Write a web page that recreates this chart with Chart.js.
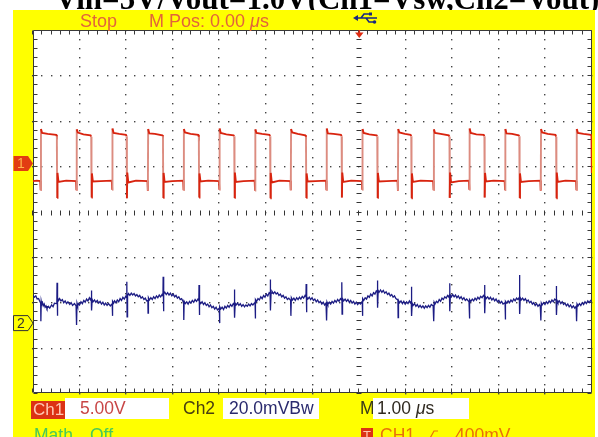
<!DOCTYPE html>
<html>
<head>
<meta charset="utf-8">
<script src="https://cdn.jsdelivr.net/npm/chart.js@4.4.1/dist/chart.umd.min.js"></script>
<style>
  body { margin: 0; background: #fff; }
  #wrap { position: relative; width: 598px; height: 437px; overflow: hidden; }
  #scope, #labels { position: absolute; left: 0; top: 0; }
  #labels text { font-family: "Liberation Sans", Arial, sans-serif; }
</style>
</head>
<body>
<div id="wrap">
<canvas id="scope" width="598" height="437"></canvas>
<svg id="labels" width="598" height="437">
  <defs><clipPath id="topclip"><rect x="0" y="0" width="598" height="10"/></clipPath></defs>
  <text x="55" y="9" clip-path="url(#topclip)" style="font-family:'Liberation Serif','Times New Roman',serif;font-weight:bold;font-size:31px" fill="#000">Vin=5V/Vout=1.0V(Ch1=Vsw,Ch2=Vout)</text>

  <text x="80" y="27" font-size="18" fill="#e2643a">Stop</text>
  <text x="149" y="27" font-size="18" fill="#e2643a">M Pos: 0.00 <tspan font-style="italic">μ</tspan>s</text>

  <rect x="31" y="401" width="34" height="18" fill="#dc3214"/>
  <text x="33" y="415" font-size="17" fill="#ffc8b4">Ch1</text>
  <rect x="65" y="398" width="104" height="21" fill="#fff"/>
  <text x="80" y="414" font-size="17.5" fill="#c84646">5.00V</text>

  <text x="183" y="414" font-size="17.5" fill="#4a4010">Ch2</text>
  <rect x="223" y="398" width="96" height="21" fill="#fff"/>
  <text x="229" y="414" font-size="17.5" fill="#2a2a6e">20.0mVBw</text>

  <text x="360" y="414" font-size="17.5" fill="#3a3a1a">M</text>
  <rect x="373" y="398" width="96" height="21" fill="#fff"/>
  <text x="377" y="414" font-size="17.5" fill="#302a20">1.00 <tspan font-style="italic">μ</tspan>s</text>

  <text x="34" y="441" font-size="17.5" fill="#48c85a">Math</text>
  <text x="90" y="441" font-size="17.5" fill="#48c85a">Off</text>

  <rect x="361" y="428" width="12" height="12" fill="#dc3214"/>
  <text x="363" y="440" font-size="13" fill="#ffc8b4">T</text>
  <text x="380" y="441" font-size="17.5" fill="#e8700a">CH1</text>
  <polyline points="424,440 429,440 434,431 438,431" fill="none" stroke="#e8700a" stroke-width="1.2"/>
  <text x="455" y="441" font-size="17.5" fill="#e8700a">400mV</text>
</svg>
</div>
<script>
// horizontal: microseconds (1 us / div), vertical: screen divisions
const timeDivs = [0, 1, 2, 3, 4, 5, 6, 7, 8, 9, 10, 11, 12];
const voltDivs = [-4, -3, -2, -1, 0, 1, 2, 3, 4];
const minorPerDiv = 5;
const triggerTime = 7;
const ch1Ground = 1.06;
const ch2Ground = -2.46;

// CH1 = Vsw  [time us, divisions]
const ch1Trace = [
  [0, 0.67], [0.08, 0.68], [0.157, 0.67],
  [0.165, 0.47], [0.171, 1.82], [0.195, 1.73], [0.315, 1.71], [0.497, 1.69], [0.512, 1.66], [0.518, 0.30], [0.526, 0.85], [0.547, 0.65], [0.712, 0.68], [0.925, 0.67],
  [0.933, 0.47], [0.939, 1.81], [0.963, 1.74], [1.083, 1.70], [1.235, 1.68], [1.250, 1.65], [1.256, 0.31], [1.264, 0.84], [1.285, 0.66], [1.45, 0.67], [1.692, 0.68],
  [1.700, 0.48], [1.706, 1.83], [1.730, 1.73], [1.850, 1.71], [1.995, 1.69], [2.010, 1.66], [2.016, 0.29], [2.024, 0.86], [2.045, 0.64], [2.21, 0.68], [2.458, 0.67],
  [2.466, 0.46], [2.472, 1.82], [2.496, 1.72], [2.616, 1.71], [2.775, 1.68], [2.790, 1.66], [2.796, 0.30], [2.804, 0.85], [2.825, 0.65], [2.99, 0.67], [3.225, 0.68],
  [3.233, 0.47], [3.239, 1.82], [3.263, 1.74], [3.383, 1.71], [3.545, 1.69], [3.560, 1.65], [3.566, 0.31], [3.574, 0.84], [3.595, 0.66], [3.76, 0.68], [3.992, 0.67],
  [4.000, 0.48], [4.006, 1.83], [4.030, 1.73], [4.150, 1.70], [4.305, 1.68], [4.320, 1.66], [4.326, 0.30], [4.334, 0.86], [4.355, 0.65], [4.52, 0.67], [4.759, 0.68],
  [4.767, 0.46], [4.773, 1.81], [4.797, 1.73], [4.917, 1.71], [5.075, 1.69], [5.090, 1.66], [5.096, 0.29], [5.104, 0.85], [5.125, 0.64], [5.29, 0.68], [5.526, 0.67],
  [5.534, 0.47], [5.540, 1.82], [5.564, 1.74], [5.684, 1.71], [5.845, 1.68], [5.860, 1.65], [5.866, 0.30], [5.874, 0.84], [5.895, 0.66], [6.06, 0.67], [6.292, 0.68],
  [6.300, 0.47], [6.306, 1.83], [6.330, 1.72], [6.450, 1.71], [6.610, 1.69], [6.625, 1.66], [6.631, 0.31], [6.639, 0.86], [6.660, 0.65], [6.83, 0.68], [7.060, 0.67],
  [7.068, 0.48], [7.074, 1.82], [7.098, 1.73], [7.218, 1.70], [7.375, 1.68], [7.390, 1.66], [7.396, 0.30], [7.404, 0.85], [7.425, 0.66], [7.59, 0.67], [7.826, 0.68],
  [7.834, 0.46], [7.840, 1.82], [7.864, 1.74], [7.984, 1.71], [8.105, 1.69], [8.120, 1.66], [8.126, 0.29], [8.134, 0.84], [8.155, 0.65], [8.32, 0.68], [8.592, 0.67],
  [8.600, 0.47], [8.606, 1.81], [8.630, 1.73], [8.750, 1.71], [8.925, 1.68], [8.940, 1.65], [8.946, 0.30], [8.954, 0.86], [8.975, 0.64], [9.14, 0.67], [9.359, 0.68],
  [9.367, 0.48], [9.373, 1.83], [9.397, 1.73], [9.517, 1.70], [9.675, 1.69], [9.690, 1.66], [9.696, 0.31], [9.704, 0.85], [9.725, 0.66], [9.89, 0.68], [10.126, 0.67],
  [10.134, 0.47], [10.140, 1.82], [10.164, 1.72], [10.284, 1.71], [10.425, 1.68], [10.440, 1.66], [10.446, 0.30], [10.454, 0.84], [10.475, 0.65], [10.64, 0.67], [10.892, 0.68],
  [10.900, 0.46], [10.906, 1.82], [10.930, 1.74], [11.050, 1.71], [11.215, 1.69], [11.230, 1.65], [11.236, 0.29], [11.244, 0.86], [11.265, 0.65], [11.43, 0.68], [11.659, 0.67],
  [11.667, 0.47], [11.673, 1.82], [11.697, 1.73], [11.817, 1.71], [11.975, 1.69], [11.99, 1.66], [11.996, 0.85]
];

// CH2 = Vout ripple
const ch2Trace = [
  [0, -1.84], [0.03, -1.89], [0.06, -1.86], [0.09, -1.93], [0.12, -1.92], [0.15, -1.99],
  [0.165, -2.02], [0.169, -2.42], [0.177, -1.98], [0.19, -2.05], [0.205, -2.01], [0.22, -2.08], [0.24, -2.04], [0.26, -2.11], [0.28, -2.08], [0.30, -2.14], [0.33, -2.09], [0.36, -2.13], [0.40, -2.06], [0.43, -2.10], [0.46, -2.02], [0.50, -2.03], [0.512, -1.98], [0.516, -1.57], [0.522, -2.30], [0.532, -1.90], [0.55, -1.96], [0.57, -1.92], [0.60, -1.97], [0.63, -1.94], [0.66, -2.01], [0.69, -1.97], [0.72, -2.03], [0.75, -1.99], [0.79, -2.05], [0.82, -2.01], [0.85, -2.07], [0.89, -2.03], [0.925, -2.08],
  [0.933, -2.06], [0.937, -2.50], [0.945, -2.02], [0.96, -2.08], [0.98, -2.03], [1.00, -2.06], [1.03, -1.99], [1.06, -2.03], [1.09, -1.96], [1.12, -2.00], [1.15, -1.93], [1.18, -1.97], [1.21, -1.90], [1.23, -1.94], [1.25, -1.90], [1.254, -1.74], [1.26, -2.18], [1.27, -1.94], [1.29, -1.99], [1.32, -1.95], [1.35, -2.00], [1.38, -1.96], [1.41, -2.02], [1.44, -1.98], [1.47, -2.04], [1.50, -2.00], [1.53, -2.06], [1.56, -2.02], [1.59, -2.07], [1.62, -2.03], [1.66, -2.08], [1.69, -2.04],
  [1.70, -2.04], [1.704, -2.30], [1.712, -1.98], [1.73, -2.02], [1.75, -1.97], [1.78, -2.01], [1.81, -1.95], [1.84, -1.99], [1.87, -1.92], [1.90, -1.96], [1.93, -1.89], [1.96, -1.93], [1.99, -1.87], [2.01, -1.90], [2.014, -1.55], [2.02, -2.32], [2.03, -1.86], [2.05, -1.81], [2.08, -1.85], [2.11, -1.80], [2.14, -1.84], [2.17, -1.81], [2.20, -1.86], [2.23, -1.83], [2.26, -1.88], [2.29, -1.85], [2.32, -1.91], [2.35, -1.88], [2.38, -1.94], [2.41, -1.91], [2.44, -1.97],
  [2.466, -1.96], [2.47, -2.24], [2.478, -1.90], [2.50, -1.95], [2.53, -1.90], [2.56, -1.94], [2.59, -1.88], [2.62, -1.92], [2.65, -1.86], [2.68, -1.90], [2.71, -1.84], [2.74, -1.88], [2.77, -1.83], [2.79, -1.86], [2.794, -1.44], [2.80, -2.20], [2.81, -1.82], [2.83, -1.78], [2.86, -1.83], [2.89, -1.79], [2.92, -1.84], [2.95, -1.80], [2.98, -1.86], [3.01, -1.82], [3.04, -1.88], [3.07, -1.85], [3.10, -1.91], [3.13, -1.88], [3.16, -1.94], [3.19, -1.92], [3.22, -1.98],
  [3.233, -2.00], [3.237, -2.39], [3.245, -1.98], [3.27, -2.03], [3.30, -1.99], [3.33, -2.04], [3.36, -1.98], [3.39, -2.02], [3.42, -1.96], [3.45, -2.00], [3.48, -1.94], [3.51, -1.98], [3.54, -1.93], [3.56, -1.96], [3.564, -1.62], [3.57, -2.28], [3.58, -1.98], [3.60, -2.03], [3.63, -1.99], [3.66, -2.05], [3.69, -2.01], [3.72, -2.07], [3.75, -2.04], [3.78, -2.10], [3.81, -2.06], [3.84, -2.12], [3.87, -2.09], [3.90, -2.15], [3.93, -2.11], [3.96, -2.17], [3.99, -2.14],
  [4.00, -2.16], [4.004, -2.46], [4.012, -2.10], [4.03, -2.15], [4.06, -2.11], [4.09, -2.16], [4.12, -2.09], [4.15, -2.13], [4.18, -2.07], [4.21, -2.11], [4.24, -2.05], [4.27, -2.09], [4.30, -2.03], [4.32, -2.06], [4.324, -1.72], [4.33, -2.34], [4.34, -2.02], [4.36, -2.06], [4.39, -2.02], [4.42, -2.07], [4.45, -2.03], [4.48, -2.09], [4.51, -2.05], [4.54, -2.10], [4.57, -2.06], [4.60, -2.09], [4.63, -2.04], [4.66, -2.08], [4.69, -2.03], [4.72, -2.06], [4.76, -2.01],
  [4.767, -2.00], [4.771, -2.36], [4.779, -1.94], [4.80, -1.98], [4.83, -1.92], [4.86, -1.95], [4.89, -1.88], [4.92, -1.92], [4.95, -1.85], [4.98, -1.89], [5.01, -1.82], [5.04, -1.86], [5.07, -1.79], [5.09, -1.81], [5.094, -1.50], [5.10, -2.18], [5.11, -1.80], [5.13, -1.76], [5.16, -1.81], [5.19, -1.77], [5.22, -1.82], [5.25, -1.79], [5.28, -1.85], [5.31, -1.82], [5.34, -1.88], [5.37, -1.85], [5.40, -1.91], [5.43, -1.88], [5.46, -1.94], [5.49, -1.91], [5.53, -1.96],
  [5.534, -1.94], [5.538, -2.30], [5.546, -1.90], [5.57, -1.95], [5.60, -1.91], [5.63, -1.96], [5.66, -1.90], [5.69, -1.94], [5.72, -1.89], [5.75, -1.93], [5.78, -1.87], [5.81, -1.91], [5.84, -1.85], [5.86, -1.88], [5.864, -1.60], [5.87, -2.22], [5.88, -1.88], [5.90, -1.93], [5.93, -1.89], [5.96, -1.94], [5.99, -1.90], [6.02, -1.96], [6.05, -1.93], [6.08, -1.99], [6.11, -1.95], [6.14, -2.01], [6.17, -1.98], [6.20, -2.04], [6.23, -2.00], [6.26, -2.06], [6.29, -2.02],
  [6.30, -2.04], [6.304, -2.40], [6.312, -2.00], [6.33, -2.05], [6.36, -2.00], [6.39, -2.04], [6.42, -1.98], [6.45, -2.02], [6.48, -1.96], [6.51, -2.00], [6.54, -1.94], [6.57, -1.98], [6.60, -1.92], [6.625, -1.95], [6.629, -1.56], [6.635, -2.26], [6.645, -1.92], [6.67, -1.97], [6.70, -1.93], [6.73, -1.98], [6.76, -1.94], [6.79, -2.00], [6.82, -1.96], [6.85, -2.02], [6.88, -1.98], [6.91, -2.04], [6.94, -2.00], [6.97, -2.05], [7.00, -2.01], [7.03, -2.04], [7.06, -1.99],
  [7.068, -1.98], [7.072, -2.30], [7.08, -1.92], [7.10, -1.96], [7.13, -1.90], [7.16, -1.93], [7.19, -1.86], [7.22, -1.89], [7.25, -1.82], [7.28, -1.86], [7.31, -1.79], [7.34, -1.82], [7.37, -1.75], [7.39, -1.77], [7.394, -1.52], [7.40, -2.12], [7.41, -1.74], [7.43, -1.78], [7.46, -1.73], [7.49, -1.78], [7.52, -1.74], [7.55, -1.80], [7.58, -1.77], [7.61, -1.83], [7.64, -1.80], [7.67, -1.86], [7.70, -1.83], [7.73, -1.89], [7.76, -1.86], [7.79, -1.92], [7.83, -1.95],
  [7.834, -1.96], [7.838, -2.34], [7.846, -1.96], [7.87, -2.01], [7.90, -1.97], [7.93, -2.03], [7.96, -1.98], [7.99, -2.04], [8.02, -1.99], [8.05, -2.03], [8.08, -1.97], [8.10, -2.01], [8.12, -1.98], [8.124, -1.66], [8.13, -2.30], [8.14, -2.02], [8.16, -2.07], [8.19, -2.03], [8.22, -2.09], [8.25, -2.05], [8.28, -2.11], [8.31, -2.07], [8.34, -2.12], [8.37, -2.08], [8.40, -2.13], [8.43, -2.08], [8.46, -2.12], [8.49, -2.07], [8.52, -2.11], [8.55, -2.05], [8.59, -2.08],
  [8.60, -2.06], [8.604, -2.42], [8.612, -2.00], [8.63, -2.04], [8.66, -1.98], [8.69, -2.01], [8.72, -1.94], [8.75, -1.98], [8.78, -1.91], [8.81, -1.94], [8.84, -1.88], [8.87, -1.91], [8.90, -1.85], [8.92, -1.88], [8.94, -1.84], [8.944, -1.58], [8.95, -2.20], [8.96, -1.84], [8.98, -1.88], [9.01, -1.83], [9.04, -1.88], [9.07, -1.84], [9.10, -1.90], [9.13, -1.86], [9.16, -1.92], [9.19, -1.88], [9.22, -1.94], [9.25, -1.90], [9.28, -1.96], [9.31, -1.93], [9.36, -1.99],
  [9.367, -1.98], [9.371, -2.36], [9.379, -1.94], [9.40, -1.98], [9.43, -1.93], [9.46, -1.97], [9.49, -1.91], [9.52, -1.95], [9.55, -1.89], [9.58, -1.93], [9.61, -1.87], [9.64, -1.90], [9.67, -1.85], [9.69, -1.88], [9.694, -1.62], [9.70, -2.24], [9.71, -1.88], [9.73, -1.92], [9.76, -1.88], [9.79, -1.93], [9.82, -1.89], [9.85, -1.95], [9.88, -1.91], [9.91, -1.97], [9.94, -1.93], [9.97, -1.99], [10.00, -1.96], [10.03, -2.02], [10.06, -1.98], [10.09, -2.04], [10.13, -2.01],
  [10.134, -2.02], [10.138, -2.38], [10.146, -1.98], [10.17, -2.02], [10.20, -1.97], [10.23, -2.01], [10.26, -1.95], [10.29, -1.99], [10.32, -1.93], [10.35, -1.97], [10.38, -1.91], [10.41, -1.94], [10.44, -1.89], [10.444, -1.40], [10.45, -2.26], [10.46, -1.90], [10.48, -1.95], [10.51, -1.91], [10.54, -1.96], [10.57, -1.92], [10.60, -1.98], [10.63, -1.95], [10.66, -2.01], [10.69, -1.98], [10.72, -2.04], [10.75, -2.01], [10.78, -2.07], [10.81, -2.03], [10.84, -2.09], [10.87, -2.05], [10.89, -2.09],
  [10.90, -2.08], [10.904, -2.40], [10.912, -2.02], [10.93, -2.06], [10.96, -2.01], [10.99, -2.05], [11.02, -1.99], [11.05, -2.03], [11.08, -1.97], [11.11, -2.01], [11.14, -1.95], [11.17, -1.99], [11.20, -1.93], [11.23, -1.96], [11.234, -1.64], [11.24, -2.28], [11.25, -1.96], [11.27, -2.01], [11.30, -1.97], [11.33, -2.03], [11.36, -1.99], [11.39, -2.05], [11.42, -2.02], [11.45, -2.08], [11.48, -2.04], [11.51, -2.10], [11.54, -2.06], [11.57, -2.12], [11.60, -2.08], [11.63, -2.13], [11.66, -2.09],
  [11.667, -2.10], [11.671, -2.42], [11.679, -2.04], [11.70, -2.08], [11.73, -2.03], [11.76, -2.07], [11.79, -2.01], [11.82, -2.05], [11.85, -1.99], [11.88, -2.03], [11.91, -1.97], [11.94, -2.01], [11.97, -1.96], [12.0, -1.99]
];

const ch1Color = '#d8230e';
const ch1EdgeColor = '#dc8c80';

const scopeScreen = {
  id: 'scopeScreen',
  beforeDraw(chart) {
    const ctx = chart.ctx, a = chart.chartArea;
    ctx.save();
    ctx.fillStyle = '#ffffff';
    ctx.fillRect(0, 0, chart.width, chart.height);
    ctx.fillStyle = '#ffff00';
    ctx.fillRect(13, 10, 582, chart.height - 10);
    ctx.fillStyle = '#ffffff';
    ctx.fillRect(a.left, a.top, a.right - a.left, a.bottom - a.top);
    ctx.restore();
  },
  beforeDatasetsDraw(chart) {
    const ctx = chart.ctx, a = chart.chartArea;
    const xs = chart.scales.x, ys = chart.scales.y;
    const px = v => xs.getPixelForValue(v), py = v => ys.getPixelForValue(v);
    const t0 = timeDivs[0], t1 = timeDivs[timeDivs.length - 1];
    const v0 = voltDivs[0], v1 = voltDivs[voltDivs.length - 1];
    const xMinor = [], yMinor = [];
    for (let i = 0; i <= (t1 - t0) * minorPerDiv; i++) xMinor.push(t0 + i / minorPerDiv);
    for (let i = 0; i <= (v1 - v0) * minorPerDiv; i++) yMinor.push(v0 + i / minorPerDiv);
    ctx.save();

    // dotted division lines
    ctx.fillStyle = '#444';
    timeDivs.slice(1, -1).forEach(t => {
      if (t === triggerTime) return;
      yMinor.forEach(v => ctx.fillRect(Math.round(px(t)) - 1, Math.round(py(v)), 1.4, 1.4));
    });
    voltDivs.slice(1, -1).forEach(v => {
      if (v === 0) return;
      xMinor.forEach(t => ctx.fillRect(Math.round(px(t)) - 1, Math.round(py(v)), 1.4, 1.4));
    });

    // centre axes with small ticks
    ctx.strokeStyle = '#333';
    ctx.lineWidth = 1;
    ctx.beginPath();
    const cx = Math.round(px(triggerTime)) - 0.5, cy = Math.round(py(0)) + 0.5;
    yMinor.forEach(v => { const y = Math.round(py(v)) + 0.5; ctx.moveTo(cx - 2, y); ctx.lineTo(cx + 3, y); });
    xMinor.forEach(t => { const x = Math.round(px(t)) - 0.5; ctx.moveTo(x, cy - 2); ctx.lineTo(x, cy + 3); });
    ctx.stroke();

    // border with inward ticks
    const L = Math.round(a.left) + 0.5, R = Math.round(a.right) - 0.5;
    const T = Math.round(a.top) + 0.5, B = Math.round(a.bottom) - 0.5;
    ctx.strokeStyle = '#3a3a3a';
    ctx.beginPath();
    ctx.rect(L, T, R - L, B - T);
    xMinor.forEach(t => {
      const x = Math.round(px(t)) - 0.5;
      ctx.moveTo(x, T); ctx.lineTo(x, T + 4);
      ctx.moveTo(x, B); ctx.lineTo(x, B - 4);
    });
    yMinor.forEach(v => {
      const y = Math.round(py(v)) + 0.5;
      ctx.moveTo(L, y); ctx.lineTo(L + 4, y);
      ctx.moveTo(R, y); ctx.lineTo(R - 4, y);
    });
    ctx.stroke();
    ctx.restore();
  },
  afterDraw(chart) {
    const ctx = chart.ctx, a = chart.chartArea;
    const xs = chart.scales.x, ys = chart.scales.y;
    ctx.save();
    // trigger position marker
    const tx = xs.getPixelForValue(triggerTime);
    ctx.fillStyle = '#e02a10';
    ctx.fillRect(tx - 0.5, a.top, 1.5, 3);
    ctx.beginPath();
    ctx.moveTo(tx - 4, a.top + 2.5); ctx.lineTo(tx + 4.5, a.top + 2.5); ctx.lineTo(tx + 0.2, a.top + 8);
    ctx.closePath(); ctx.fill();

    // channel ground markers
    const marker = (v, fill, stroke, txt, txtColor) => {
      const y = ys.getPixelForValue(v);
      ctx.beginPath();
      ctx.moveTo(13.5, y - 7.5); ctx.lineTo(28, y - 7.5); ctx.lineTo(a.left, y);
      ctx.lineTo(28, y + 7.5); ctx.lineTo(13.5, y + 7.5); ctx.closePath();
      ctx.fillStyle = fill; ctx.fill();
      if (stroke) { ctx.strokeStyle = stroke; ctx.lineWidth = 1; ctx.stroke(); }
      ctx.fillStyle = txtColor;
      ctx.font = '14px "Liberation Sans", Arial, sans-serif';
      ctx.textBaseline = 'middle';
      ctx.fillText(txt, 17, y + 1);
    };
    marker(ch1Ground, '#e23c12', null, '1', '#ffb44a');
    marker(ch2Ground, '#ffff00', '#333', '2', '#333');

    // USB symbol
    ctx.strokeStyle = '#1a2880'; ctx.fillStyle = '#1a2880'; ctx.lineWidth = 1.6;
    ctx.beginPath();
    ctx.moveTo(357, 18); ctx.lineTo(377, 18);
    ctx.moveTo(361, 18); ctx.lineTo(364, 14); ctx.lineTo(369, 14);
    ctx.moveTo(366, 18); ctx.lineTo(369, 22); ctx.lineTo(373, 22);
    ctx.stroke();
    ctx.beginPath(); ctx.moveTo(353, 18); ctx.lineTo(358, 15); ctx.lineTo(358, 21); ctx.closePath(); ctx.fill();
    ctx.fillRect(369, 12.5, 3, 3);
    ctx.beginPath(); ctx.arc(374.5, 22, 1.8, 0, Math.PI * 2); ctx.fill();
    ctx.restore();
  }
};

const ctx = document.getElementById('scope').getContext('2d');
new Chart(ctx, {
  type: 'line',
  data: {
    datasets: [{
      label: 'CH1',
      data: ch1Trace.map(p => ({ x: p[0], y: p[1] })),
      borderColor: ch1Color,
      borderWidth: 1.9,
      pointRadius: 0,
      tension: 0,
      segment: {
        // fast edges come out faint on the scope
        borderColor: c => (Math.abs(c.p1.y - c.p0.y) > 40 && Math.abs(c.p1.x - c.p0.x) < 1) ? ch1EdgeColor : ch1Color
      }
    }, {
      label: 'CH2',
      data: ch2Trace.map(p => ({ x: p[0], y: p[1] })),
      borderColor: '#1c1c84',
      borderWidth: 1.3,
      pointRadius: 0,
      tension: 0
    }]
  },
  options: {
    responsive: false,
    animation: false,
    events: [],
    layout: { padding: { left: 33, top: 30, right: 6, bottom: 44 } },
    scales: {
      x: { type: 'linear', min: timeDivs[0], max: timeDivs[timeDivs.length - 1], display: false },
      y: { type: 'linear', min: voltDivs[0], max: voltDivs[voltDivs.length - 1], display: false }
    },
    plugins: {
      legend: { display: false },
      tooltip: { enabled: false }
    }
  },
  plugins: [scopeScreen]
});
</script>
</body>
</html>
